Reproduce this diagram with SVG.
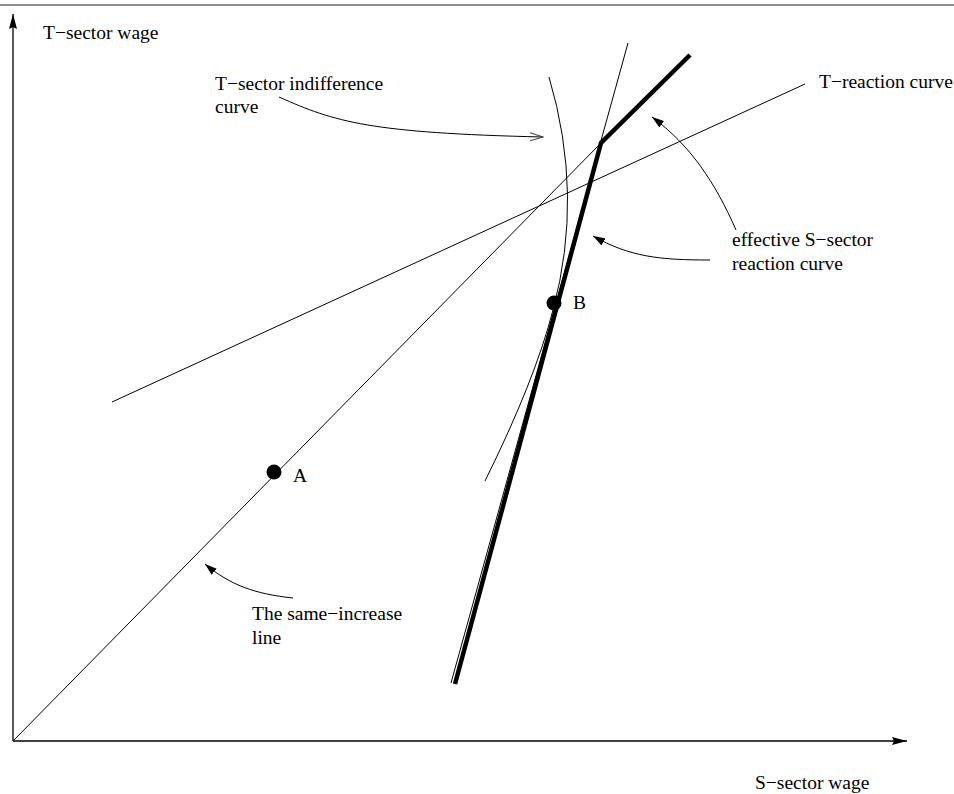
<svg xmlns="http://www.w3.org/2000/svg" width="954" height="794" viewBox="0 0 954 794">
  <style>
    text { font-family: "Liberation Serif", "Times New Roman", serif; font-size: 19.5px; fill: #000; }
    .thin { stroke: #000; stroke-width: 1; fill: none; }
    .thick { stroke: #000; stroke-width: 4.5; fill: none; stroke-linejoin: miter; }
    .axis { stroke: #000; stroke-width: 1.3; fill: none; }
    .call { stroke: #000; stroke-width: 1; fill: none; }
  </style>
  <defs>
    <marker id="axisHead" markerUnits="userSpaceOnUse" viewBox="0 0 16 8" refX="15" refY="4" markerWidth="16" markerHeight="8" orient="auto">
      <path d="M0,0 L15,4 L0,8 L2,4 z" fill="#000"/>
    </marker>
    <marker id="fillHead" markerUnits="userSpaceOnUse" viewBox="0 0 13 8" refX="12" refY="4" markerWidth="13" markerHeight="8" orient="auto">
      <path d="M0,0 L12,4 L0,8 z" fill="#000"/>
    </marker>
    <marker id="openHead" markerUnits="userSpaceOnUse" viewBox="0 0 14 10" refX="13" refY="5" markerWidth="14" markerHeight="10" orient="auto">
      <path d="M0,1 L13,5 L0,9" fill="none" stroke="#444" stroke-width="1"/>
    </marker>
  </defs>
  <rect width="954" height="794" fill="#fff"/>
  <line x1="0" y1="5" x2="954" y2="5" stroke="#666" stroke-width="1.5"/>

  <g id="axes">
    <line class="axis" x1="13" y1="741" x2="13" y2="14" marker-end="url(#axisHead)"/>
    <line class="axis" x1="13" y1="741" x2="907" y2="741" marker-end="url(#axisHead)"/>
    <text x="43" y="39">T−sector wage</text>
    <text x="755" y="789">S−sector wage</text>
  </g>

  <g id="curves">
    <line id="same-increase-line" class="thin" x1="13" y1="741" x2="601" y2="143"/>
    <line id="t-reaction-curve" class="thin" x1="112" y1="402" x2="805" y2="84"/>
    <line id="s-reaction-curve" class="thin" x1="628" y1="43" x2="451" y2="683"/>
    <path id="indifference-curve" class="thin" d="M549,77 Q584,195 553,310 Q535,380 485,481"/>
    <polyline id="effective-s-reaction" class="thick" points="455,684 601,143 690,55"/>
  </g>

  <g id="point-A">
    <circle cx="274" cy="472" r="7.5" fill="#000"/>
    <text x="293" y="482">A</text>
  </g>
  <g id="point-B">
    <circle cx="554" cy="303" r="7.5" fill="#000"/>
    <text x="573" y="309">B</text>
  </g>

  <g id="label-indifference">
    <text x="215" y="90">T−sector indifference</text>
    <text x="215" y="113">curve</text>
  </g>
  <g id="label-t-reaction">
    <text x="819" y="88">T−reaction curve</text>
  </g>
  <g id="label-effective">
    <text x="732" y="246">effective S−sector</text>
    <text x="732" y="270">reaction curve</text>
  </g>
  <g id="label-same-increase">
    <text x="252" y="620">The same−increase</text>
    <text x="252" y="644">line</text>
  </g>

  <g id="connectors">
    <path class="call" d="M279,97 C335,122 370,133 543,137" marker-end="url(#openHead)"/>
    <path class="call" d="M736,230 C715,182 690,145 652,117" marker-end="url(#fillHead)"/>
    <path class="call" d="M710,260 C660,260 630,257 593,236" marker-end="url(#fillHead)"/>
    <path class="call" d="M293,598 C255,594 230,585 205,564" marker-end="url(#fillHead)"/>
  </g>
</svg>
